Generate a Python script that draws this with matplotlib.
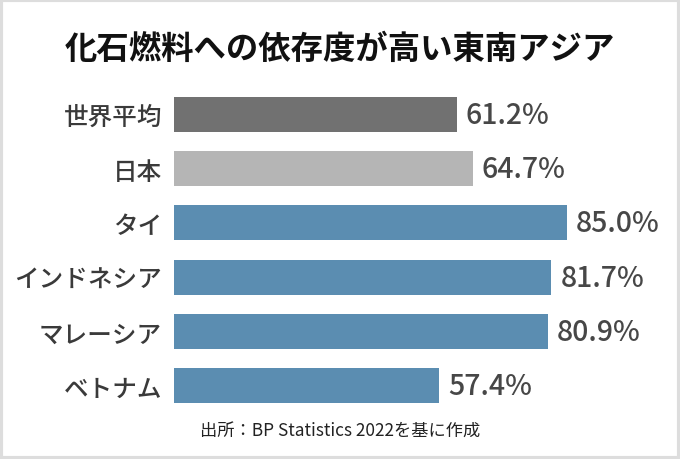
import matplotlib.pyplot as plt
import matplotlib.patches as mpatches

plt.rcParams['font.family'] = ['Noto Sans CJK JP', 'DejaVu Sans']

categories = ['世界平均', '日本', 'タイ', 'インドネシア', 'マレーシア', 'ベトナム']
values = [61.2, 64.7, 85.0, 81.7, 80.9, 57.4]
colors = ['#717171', '#b5b5b5', '#5b8db1', '#5b8db1', '#5b8db1', '#5b8db1']
title = '化石燃料への依存度が高い東南アジア'
source = '出所：BP Statistics 2022を基に作成'

fig = plt.figure(figsize=(6.8, 4.6), dpi=100)
ax = fig.add_axes([174 / 680, 0.1, 462 / 680, 326 / 460])

y = list(range(len(categories)))
ax.barh(y, values, height=0.64, color=colors)
ax.set_xlim(0, 100)
ax.set_ylim(len(categories) - 0.5, -0.5)

for yi, v in zip(y, values):
    ax.annotate(f'{v:.1f}%', (v, yi), xytext=(6.5, 0), textcoords='offset points',
                va='center', ha='left', fontsize=20.5, fontweight='medium',
                color='#474747')

ax.set_yticks(y)
ax.set_yticklabels(categories, fontsize=17.7, fontweight='medium', color='#3a3a3a')
ax.tick_params(axis='y', length=0, pad=8.5)
ax.set_xticks([])
for s in ax.spines.values():
    s.set_visible(False)

fig.text(0.5, 0.893, title, ha='center', va='center', fontsize=23.3,
         fontweight='bold', color='#111111')
fig.text(0.5, 0.062, source, ha='center', va='center', fontsize=12.4,
         color='#222222')

# light frame around the whole picture
fig.patches.append(mpatches.Rectangle((0.002, 0.003), 0.996, 0.994,
                                      transform=fig.transFigure, fill=False,
                                      edgecolor='#dddddd', linewidth=3))

fig.savefig('out.png', dpi=100)
